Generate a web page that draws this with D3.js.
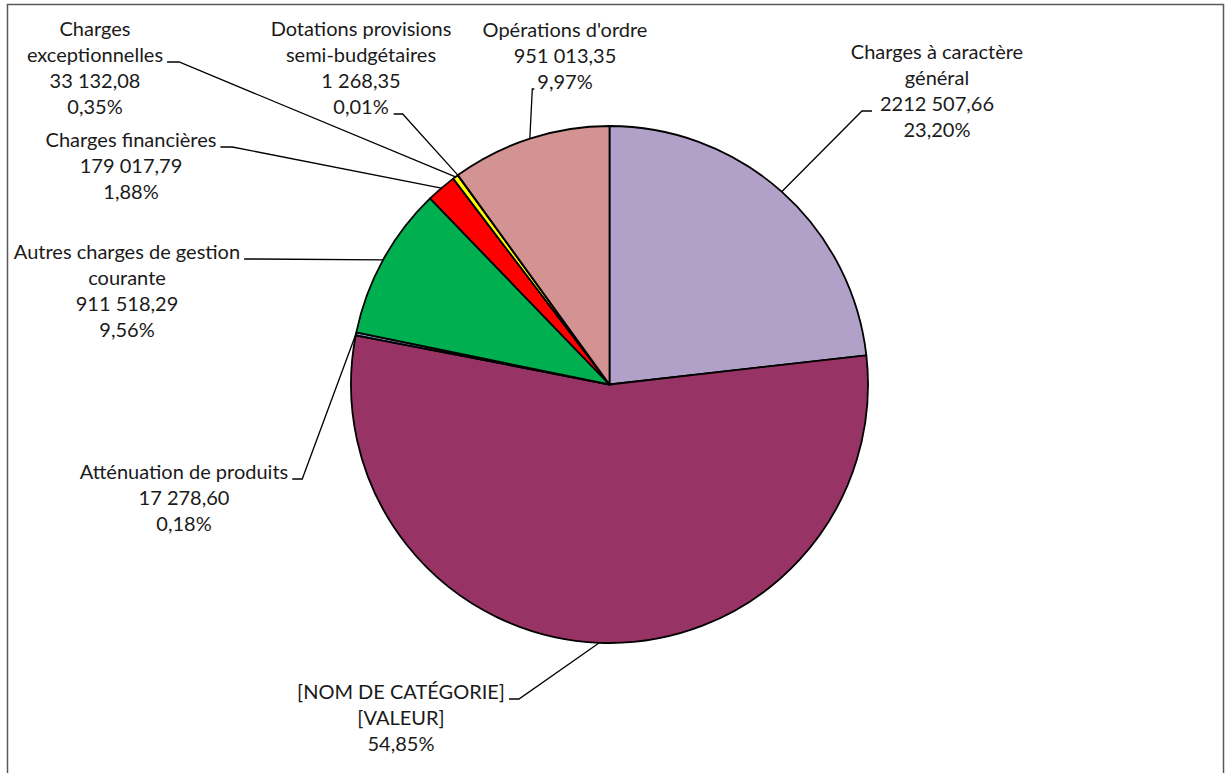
<!DOCTYPE html>
<html>
<head>
<meta charset="utf-8">
<script src="https://cdn.jsdelivr.net/npm/d3@7"></script>
<style>
  body { margin: 0; background: #ffffff; }
  .sliceLabel { font-family: Lato, "Open Sans", Arial, sans-serif; font-size: 20px; fill: #1a1a1a; }
</style>
</head>
<body>
<script>
/// data (slices in clockwise order, from 12 o'clock)
var categories = ["Charges à caractère général",
                  "[NOM DE CATÉGORIE]",
                  "Atténuation de produits",
                  "Autres charges de gestion courante",
                  "Charges financières",
                  "Charges exceptionnelles",
                  "Dotations provisions semi-budgétaires",
                  "Opérations d'ordre"];

var values = [2212507.66, 5230964.00, 17278.60, 911518.29,
              179017.79, 33132.08, 1268.35, 951013.35];

/// value labels as shown on the chart
var valueLabels = ["2212 507,66", "[VALEUR]", "17 278,60", "911 518,29",
                   "179 017,79", "33 132,08", "1 268,35", "951 013,35"];

var colors = ["#B1A0C7", "#983365", "#8EB4E3", "#00B050",
              "#FF0000", "#FFFF00", "#F79646", "#D29392"];

/// label placement (x = centre of text block, y = first baseline)
var labelLayout = [
  {x: 937, y: 59,  breakAfter: 3, leaderLine: 2, side: "start", gap: 8, hook: 10},
  {x: 401, y: 699, breakAfter: 0, leaderLine: 0, side: "end",   gap: 4, hook: 10},
  {x: 184, y: 479, breakAfter: 0, leaderLine: 0, side: "end",   gap: 4, hook: 10},
  {x: 127, y: 259, breakAfter: 4, leaderLine: 0, side: "end",   gap: 4, hook: 10},
  {x: 131, y: 147, breakAfter: 0, leaderLine: 0, side: "end",   gap: 4, hook: 12},
  {x: 95,  y: 36,  breakAfter: 1, leaderLine: 1, side: "end",   gap: 4, hook: 12},
  {x: 361, y: 36,  breakAfter: 2, leaderLine: 3, side: "end",   gap: 5, hook: 9},
  {x: 565, y: 37,  breakAfter: 0, leaderLine: 2, side: "start", gap: 3, hook: 2}
];

/// dimensions
var width = 1225, height = 773;
var cx = 609.5, cy = 384.5, radius = 258.5;
var lineHeight = 26;

var svg = d3.select("body")
            .append("svg")
            .attr("width", width)
            .attr("height", height);

// chart frame (bottom edge runs off the picture)
svg.append("rect")
   .attr("x", 7.5)
   .attr("y", 4.5)
   .attr("width", 1216)
   .attr("height", 800)
   .style("fill", "none")
   .style("stroke", "#595959")
   .style("stroke-width", 1.5);

var frLocale = d3.formatLocale({decimal: ",", thousands: " ", grouping: [3],
                                currency: ["", " €"], percent: "%"});
var pct = frLocale.format(".2%");
var total = d3.sum(values);

var pie = d3.pie()
            .sort(null)
            .value(d => d);

var arcs = pie(values);

var arc = d3.arc()
            .innerRadius(0)
            .outerRadius(radius);

// point on the rim at the slice mid angle
var rimArc = d3.arc()
               .innerRadius(radius)
               .outerRadius(radius);

var PIE_G = svg.append("g")
               .attr("transform", "translate(" + cx + "," + cy + ")");

PIE_G.selectAll()
     .data(arcs)
     .enter()
     .append("path")
     .attr("d", arc)
     .style("fill", (d,i) => colors[i])
     .style("stroke", "#000000")
     .style("stroke-width", 1.8)
     .style("stroke-linejoin", "round");

/// labels
var LABEL_G = svg.append("g");
var LEADER_G = svg.append("g");

arcs.forEach(function(d, i) {
  var lay = labelLayout[i];
  var words = categories[i].split(" ");
  var lines = lay.breakAfter > 0
      ? [words.slice(0, lay.breakAfter).join(" "), words.slice(lay.breakAfter).join(" ")]
      : [categories[i]];
  lines.push(valueLabels[i]);
  lines.push(pct(values[i] / total));

  var texts = LABEL_G.selectAll()
                     .data(lines)
                     .enter()
                     .append("text")
                     .attr("class", "sliceLabel")
                     .attr("x", lay.x)
                     .attr("y", (t,j) => lay.y + j*lineHeight)
                     .attr("text-anchor", "middle")
                     .text(t => t);

  // leader line from the chosen text line to the rim
  var box = texts.nodes()[lay.leaderLine].getBBox();
  var by = lay.y + lay.leaderLine*lineHeight;
  var x0 = lay.side === "end" ? box.x + box.width + lay.gap : box.x - lay.gap,
      x1 = lay.side === "end" ? x0 + lay.hook : x0 - lay.hook;
  var rim = rimArc.centroid(d);

  LEADER_G.append("polyline")
          .attr("points", [[x0, by], [x1, by], [cx + rim[0], cy + rim[1]]].map(p => p.join(",")).join(" "))
          .style("fill", "none")
          .style("stroke", "#000000")
          .style("stroke-width", 1.3);
});
</script>
</body>
</html>
